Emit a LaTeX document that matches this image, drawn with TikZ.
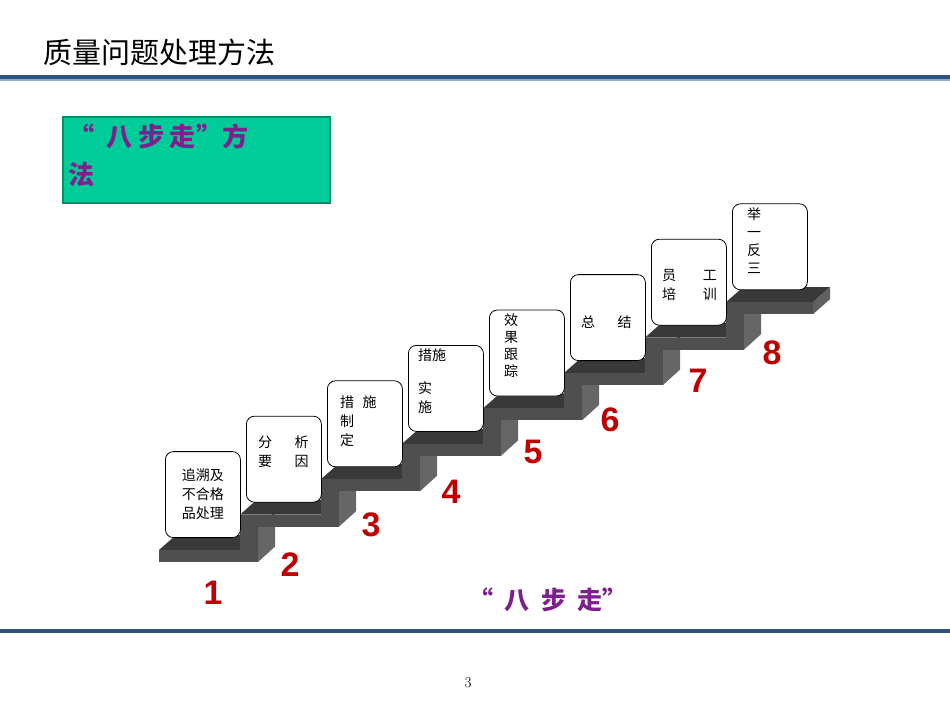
\documentclass[tikz,border=0pt]{standalone}
\usepackage{fontspec}
\newfontfamily\cjk{Noto Sans CJK SC}
\newfontfamily\num{Liberation Sans}
\usetikzlibrary{calc}
\definecolor{lineblue}{HTML}{2F5283}
\definecolor{numred}{HTML}{C00000}
\definecolor{purp}{HTML}{7F1F8F}
\definecolor{greenfill}{HTML}{00CC99}
\definecolor{greenedge}{HTML}{00906A}
\tikzset{
 stepbox/.style={draw=black,fill=white,rounded corners=8pt,minimum width=75pt,minimum height=86pt,inner sep=0pt,anchor=south west,line width=0.8pt},
 boxtext/.style={font=\cjk\fontsize{14}{19}\selectfont,inner sep=0pt,align=left},
 stepnum/.style={font=\num\bfseries\fontsize{34}{34}\selectfont,text=numred,inner sep=0pt},
}
\begin{document}
\begin{tikzpicture}[x=1pt,y=-1pt]
\useasboundingbox[fill=white] (0,0) rectangle (950,713);
\node[font=\cjk\fontsize{29}{29}\selectfont,anchor=west,inner sep=0pt] (title) at (43,52) {质量问题处理方法};
\fill[lineblue] (0,75) rectangle (950,79);
\fill[lineblue!50] (0,79) rectangle (950,80.5);
\fill[lineblue] (0,629) rectangle (950,633);
\node[draw=greenedge,line width=1.5pt,fill=greenfill,minimum width=267pt,minimum height=86pt,anchor=north west,inner sep=0pt] (gbox) at (62,116) {};
\node[font=\cjk\bfseries\fontsize{26}{38}\selectfont,text=purp,anchor=north west,align=left,inner sep=0pt] (gtext) at (68,124) {“\ \ 八 步 走”方\\法};
% stairs
\foreach \k in {0,...,7}{
  \pgfmathsetmacro{\ox}{159+81*\k}
  \pgfmathsetmacro{\oy}{562-35.4*\k}
  \pgfmathsetmacro{\w}{\k==7 ? 87 : 83}
  % slab
  \fill[gray!45!black] (\ox,\oy-12) -- (\ox+\w,\oy-12) -- (\ox+\w+17,\oy-27) -- (\ox+17,\oy-27) -- cycle;
  \fill[gray!62!black] (\ox,\oy-12) rectangle (\ox+\w,\oy);
  \fill[gray!75!black] (\ox+\w,\oy-12) -- (\ox+\w+17,\oy-27) -- (\ox+\w+17,\oy-15) -- (\ox+\w,\oy) -- cycle;
  % riser leading to next step
  \ifnum\k<7
    \pgfmathsetmacro{\rx}{159+81*(\k+1)}
    \pgfmathsetmacro{\ry}{562-35.4*(\k+1)}
    \fill[gray!62!black] (\rx,\ry) rectangle (\rx+18,\ry+35.4);
    \fill[gray!80!black] (\rx+18,\ry) -- (\rx+35,\ry-15) -- (\rx+35,\ry+20) -- (\rx+18,\ry+35.4) -- cycle;
  \fi
}
% boxes
\foreach \k in {0,...,7}{
  \pgfmathsetmacro{\ox}{159+81*\k}
  \pgfmathsetmacro{\oy}{562-35.4*\k}
  \node[stepbox] (b\k) at (\ox+6,\oy-24) {};
}
\node[boxtext,align=center,anchor=center] (t0) at (b0.center) {追溯及\\不合格\\品处理};
\node[boxtext,anchor=north west] (t1) at ($(b1.north west)+(12,20)$) {分\hspace{1.6em}析\\要\hspace{1.6em}因};
\node[boxtext,anchor=north west] (t2) at ($(b2.north west)+(13,15)$) {措\hspace{0.6em}施\\制\\定};
\node[boxtext,anchor=north west] (t3) at ($(b3.north west)+(10,4)$) {措施\\[14pt]实\\施};
\node[boxtext,anchor=north west,font=\cjk\fontsize{14}{17}\selectfont] (t4) at ($(b4.north west)+(15,4)$) {效\\果\\跟\\踪};
\node[boxtext,anchor=north west] (t5) at ($(b5.north west)+(11,41)$) {总\hspace{1.6em}结};
\node[boxtext,anchor=north west] (t6) at ($(b6.north west)+(11,30)$) {员\hspace{1.9em}工\\培\hspace{1.9em}训};
\node[boxtext,anchor=north west,font=\cjk\fontsize{14}{18}\selectfont] (t7) at ($(b7.north west)+(15,4)$) {举\\一\\反\\三};
% numbers
\node[stepnum] (n1) at (213,593) {1};
\node[stepnum] (n2) at (290,565) {2};
\node[stepnum] (n3) at (371,525) {3};
\node[stepnum] (n4) at (451,492) {4};
\node[stepnum] (n5) at (533,452) {5};
\node[stepnum] (n6) at (610,420) {6};
\node[stepnum] (n7) at (698,381) {7};
\node[stepnum] (n8) at (772,353) {8};
\node[font=\cjk\bfseries\fontsize{25}{25}\selectfont,text=purp,inner sep=0pt] (motto) at (548,600) {“\ \ 八\ \ 步\ \ 走”};
\node[font=\fontsize{15}{15}\selectfont,inner sep=0pt] (page) at (468,683) {3};
\end{tikzpicture}
\end{document}
